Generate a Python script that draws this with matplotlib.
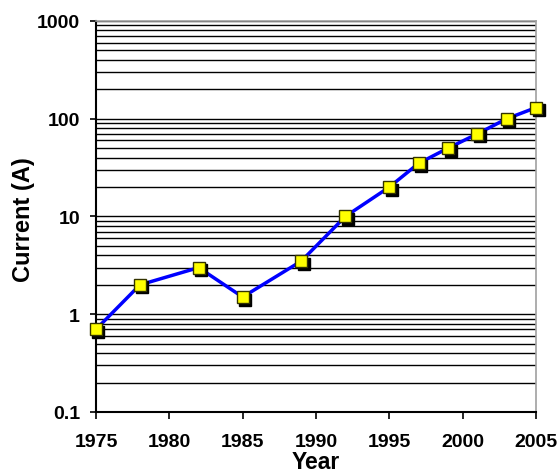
import matplotlib
matplotlib.use("Agg")
import matplotlib.pyplot as plt
import matplotlib.transforms as mtransforms
from matplotlib.ticker import LogLocator, FixedLocator, NullFormatter, FixedFormatter

years = [1975, 1978, 1982, 1985, 1989, 1992, 1995, 1997, 1999, 2001, 2003, 2005]
current = [0.7, 2, 3, 1.5, 3.5, 10, 20, 35, 50, 70, 100, 130]
xticks = [1975, 1980, 1985, 1990, 1995, 2000, 2005]
yticks = [0.1, 1, 10, 100, 1000]
ylabels = ["0.1", "1", "10", "100", "1000"]

plt.rcParams['font.family'] = ['Liberation Sans', 'DejaVu Sans']

fig = plt.figure(figsize=(5.59, 4.77), dpi=100)
ax = fig.add_axes([0.1717, 0.1342, 0.9589 - 0.1717, 0.9539 - 0.1342])
ax.set_yscale('log')
ax.set_xlim(1975, 2005)
ax.set_ylim(0.1, 1000)

# grid lines at every 1..9 multiple
ax.yaxis.set_major_locator(FixedLocator(yticks))
ax.yaxis.set_major_formatter(FixedFormatter(ylabels))
ax.yaxis.set_minor_locator(LogLocator(base=10, subs=range(2, 10)))
ax.yaxis.set_minor_formatter(NullFormatter())
ax.grid(True, which='both', axis='y', color='black', linewidth=1.0)
ax.tick_params(axis='y', which='minor', length=0)
ax.tick_params(axis='y', which='major', direction='out', length=4.5, width=1.2,
               labelsize=14, pad=7)
ax.set_xticks(xticks)
ax.tick_params(axis='x', direction='out', length=5, width=1.2, labelsize=14, pad=10)
for lab in ax.get_xticklabels() + ax.get_yticklabels():
    lab.set_fontweight('bold')

for s in ['left', 'bottom']:
    ax.spines[s].set_color('black')
    ax.spines[s].set_linewidth(1.5)
for s in ['top', 'right']:
    ax.spines[s].set_color('#a0a0a0')
    ax.spines[s].set_linewidth(1.2)

ax.plot(years, current, color='#0000ff', linewidth=2.5, zorder=3, clip_on=False)
shadow = mtransforms.offset_copy(ax.transData, fig=fig, x=2.5, y=-2.5, units='dots')
ax.plot(years, current, linestyle='none', marker='s', markersize=9,
        markerfacecolor='black', markeredgecolor='black', transform=shadow,
        zorder=4, clip_on=False)
ax.plot(years, current, linestyle='none', marker='s', markersize=9,
        markerfacecolor='#ffff00', markeredgecolor='#333300', markeredgewidth=1.0,
        zorder=5, clip_on=False)

ax.set_xlabel('Year', fontsize=16.5, fontweight='bold')
ax.set_ylabel('Current (A)', fontsize=17, fontweight='bold')
ax.xaxis.set_label_coords(0.5, -0.098)
ax.yaxis.set_label_coords(-0.139, 0.495)

fig.savefig('out.png', dpi=100)
